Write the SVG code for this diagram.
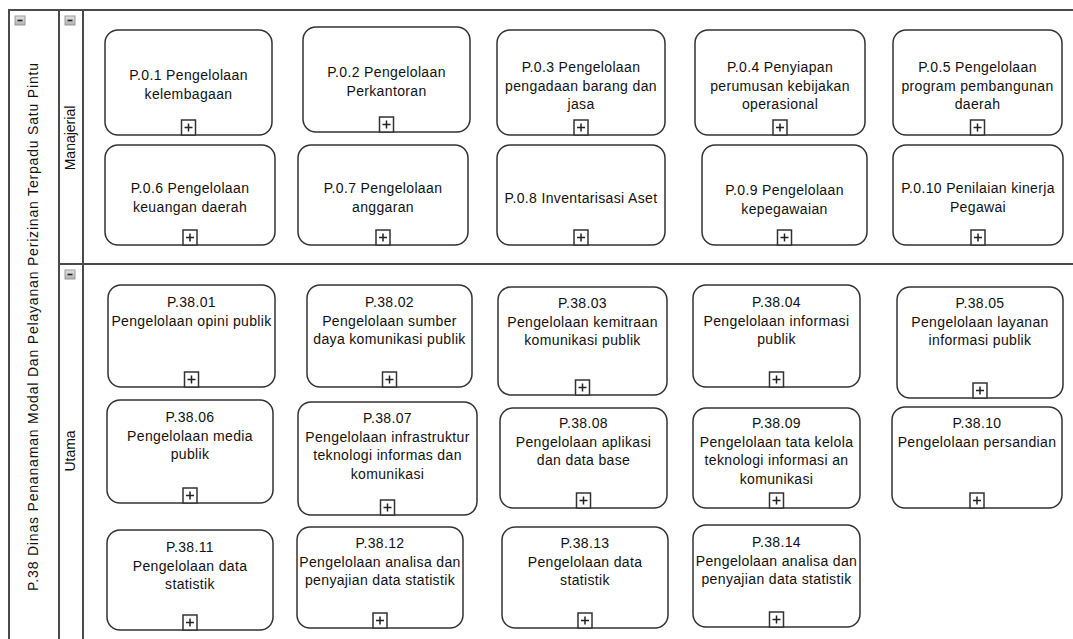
<svg xmlns="http://www.w3.org/2000/svg" width="1073" height="639" viewBox="0 0 1073 639">
<defs>
<style>
.ln{stroke:#4a4a4a;stroke-width:2;fill:none}
.box{fill:#fff;stroke:#333;stroke-width:1.5}
.t{font-family:"Liberation Sans",Arial,sans-serif;font-size:14px;letter-spacing:0.35px;fill:#111;text-anchor:middle}
.hd{font-family:"Liberation Sans",Arial,sans-serif;font-size:14px;fill:#111;text-anchor:middle}
.pm{fill:#fff;stroke:#333;stroke-width:1.5}
.pl{stroke:#222;stroke-width:1.5}
.ic{fill:url(#g);stroke:#999;stroke-width:1}
</style>
<linearGradient id="g" x1="0" y1="0" x2="0" y2="1"><stop offset="0" stop-color="#e4e4e4"/><stop offset="1" stop-color="#b0b0b0"/></linearGradient>
<g id="plus"><rect class="pm" x="-7" y="-15" width="14" height="15"/><path class="pl" d="M-4,-7.5H4M0,-11.5V-3.5"/></g>
<g id="coll"><rect class="ic" x="0" y="0" width="10" height="9"/><path d="M2.5,4.5H7.5" stroke="#222" stroke-width="1.6"/></g>
</defs>
<rect width="1073" height="639" fill="#fff"/>

<g id="pool">
<path class="ln" d="M9,639V10H1073M59,10V639M83,10V639M59,264H1073"/>
<use href="#coll" x="15" y="16"/>
<use href="#coll" x="65" y="16"/>
<use href="#coll" x="65" y="270"/>
<text class="hd" transform="translate(38,327) rotate(-90)" textLength="528" lengthAdjust="spacing">P.38 Dinas Penanaman Modal Dan Pelayanan Perizinan Terpadu Satu Pintu</text>
</g>
<g id="lane-manajerial"><text class="hd" transform="translate(75,138) rotate(-90)">Manajerial</text></g>
<g id="lane-utama"><text class="hd" transform="translate(75,451) rotate(-90)">Utama</text></g>

<g id="connectors"></g>

<g id="P0-1"><rect class="box" x="105" y="30" width="167" height="105" rx="13"/><text class="t" x="188.5" y="80">P.0.1 Pengelolaan<tspan x="188.5" dy="18.5">kelembagaan</tspan></text><use href="#plus" x="188.5" y="135"/></g>
<g id="P0-2"><rect class="box" x="303" y="27" width="167" height="105" rx="13"/><text class="t" x="386.5" y="77">P.0.2 Pengelolaan<tspan x="386.5" dy="18.5">Perkantoran</tspan></text><use href="#plus" x="386.5" y="132"/></g>
<g id="P0-3"><rect class="box" x="497" y="30" width="168" height="105" rx="13"/><text class="t" x="581" y="72">P.0.3 Pengelolaan<tspan x="581" dy="18.5">pengadaan barang dan</tspan><tspan x="581" dy="18.5">jasa</tspan></text><use href="#plus" x="581" y="135"/></g>
<g id="P0-4"><rect class="box" x="695" y="30" width="170" height="105" rx="13"/><text class="t" x="780" y="72">P.0.4 Penyiapan<tspan x="780" dy="18.5">perumusan kebijakan</tspan><tspan x="780" dy="18.5">operasional</tspan></text><use href="#plus" x="780" y="135"/></g>
<g id="P0-5"><rect class="box" x="893" y="30" width="169" height="105" rx="13"/><text class="t" x="977.5" y="72">P.0.5 Pengelolaan<tspan x="977.5" dy="18.5">program pembangunan</tspan><tspan x="977.5" dy="18.5">daerah</tspan></text><use href="#plus" x="977.5" y="135"/></g>
<g id="P0-6"><rect class="box" x="105" y="145" width="170" height="100" rx="13"/><text class="t" x="190" y="193">P.0.6 Pengelolaan<tspan x="190" dy="18.5">keuangan daerah</tspan></text><use href="#plus" x="190" y="245"/></g>
<g id="P0-7"><rect class="box" x="298" y="145" width="170" height="100" rx="13"/><text class="t" x="383" y="193">P.0.7 Pengelolaan<tspan x="383" dy="18.5">anggaran</tspan></text><use href="#plus" x="383" y="245"/></g>
<g id="P0-8"><rect class="box" x="497" y="145" width="168" height="100" rx="13"/><text class="t" x="581" y="203">P.0.8 Inventarisasi Aset</text><use href="#plus" x="581" y="245"/></g>
<g id="P0-9"><rect class="box" x="702" y="145" width="165" height="100" rx="13"/><text class="t" x="784.5" y="195">P.0.9 Pengelolaan<tspan x="784.5" dy="18.5">kepegawaian</tspan></text><use href="#plus" x="784.5" y="245"/></g>
<g id="P0-10"><rect class="box" x="893" y="145" width="170" height="100" rx="13"/><text class="t" x="978" y="193">P.0.10 Penilaian kinerja<tspan x="978" dy="18.5">Pegawai</tspan></text><use href="#plus" x="978" y="245"/></g>

<g id="P38-01"><rect class="box" x="108" y="285" width="167" height="102" rx="13"/><text class="t" x="191.5" y="307">P.38.01<tspan x="191.5" dy="18.5">Pengelolaan opini publik</tspan></text><use href="#plus" x="191.5" y="387"/></g>
<g id="P38-02"><rect class="box" x="307" y="285" width="165" height="102" rx="13"/><text class="t" x="389.5" y="307">P.38.02<tspan x="389.5" dy="18.5">Pengelolaan sumber</tspan><tspan x="389.5" dy="18.5">daya komunikasi publik</tspan></text><use href="#plus" x="389.5" y="387"/></g>
<g id="P38-03"><rect class="box" x="498" y="287" width="169" height="108" rx="13"/><text class="t" x="582.5" y="308">P.38.03<tspan x="582.5" dy="18.5">Pengelolaan kemitraan</tspan><tspan x="582.5" dy="18.5">komunikasi publik</tspan></text><use href="#plus" x="582.5" y="395"/></g>
<g id="P38-04"><rect class="box" x="693" y="285" width="167" height="102" rx="13"/><text class="t" x="776.5" y="307">P.38.04<tspan x="776.5" dy="18.5">Pengelolaan informasi</tspan><tspan x="776.5" dy="18.5">publik</tspan></text><use href="#plus" x="776.5" y="387"/></g>
<g id="P38-05"><rect class="box" x="897" y="287" width="166" height="111" rx="13"/><text class="t" x="980" y="308">P.38.05<tspan x="980" dy="18.5">Pengelolaan layanan</tspan><tspan x="980" dy="18.5">informasi publik</tspan></text><use href="#plus" x="980" y="398"/></g>
<g id="P38-06"><rect class="box" x="107" y="400" width="166" height="103" rx="13"/><text class="t" x="190" y="422">P.38.06<tspan x="190" dy="18.5">Pengelolaan media</tspan><tspan x="190" dy="18.5">publik</tspan></text><use href="#plus" x="190" y="503"/></g>
<g id="P38-07"><rect class="box" x="298" y="402" width="179" height="113" rx="13"/><text class="t" x="387.5" y="423">P.38.07<tspan x="387.5" dy="18.5">Pengelolaan infrastruktur</tspan><tspan x="387.5" dy="18.5">teknologi informas dan</tspan><tspan x="387.5" dy="18.5">komunikasi</tspan></text><use href="#plus" x="387.5" y="515"/></g>
<g id="P38-08"><rect class="box" x="500" y="408" width="167" height="100" rx="13"/><text class="t" x="583.5" y="428">P.38.08<tspan x="583.5" dy="18.5">Pengelolaan aplikasi</tspan><tspan x="583.5" dy="18.5">dan data base</tspan></text><use href="#plus" x="583.5" y="508"/></g>
<g id="P38-09"><rect class="box" x="693" y="408" width="167" height="100" rx="13"/><text class="t" x="776.5" y="428">P.38.09<tspan x="776.5" dy="18.5">Pengelolaan tata kelola</tspan><tspan x="776.5" dy="18.5">teknologi informasi an</tspan><tspan x="776.5" dy="18.5">komunikasi</tspan></text><use href="#plus" x="776.5" y="508"/></g>
<g id="P38-10"><rect class="box" x="892" y="407" width="170" height="101" rx="13"/><text class="t" x="977" y="428">P.38.10<tspan x="977" dy="18.5">Pengelolaan persandian</tspan></text><use href="#plus" x="977" y="508"/></g>
<g id="P38-11"><rect class="box" x="107" y="530" width="166" height="100" rx="13"/><text class="t" x="190" y="552">P.38.11<tspan x="190" dy="18.5">Pengelolaan data</tspan><tspan x="190" dy="18.5">statistik</tspan></text><use href="#plus" x="190" y="630"/></g>
<g id="P38-12"><rect class="box" x="297" y="527" width="166" height="101" rx="13"/><text class="t" x="380" y="548">P.38.12<tspan x="380" dy="18.5">Pengelolaan analisa dan</tspan><tspan x="380" dy="18.5">penyajian data statistik</tspan></text><use href="#plus" x="380" y="628"/></g>
<g id="P38-13"><rect class="box" x="502" y="527" width="166" height="101" rx="13"/><text class="t" x="585" y="548">P.38.13<tspan x="585" dy="18.5">Pengelolaan data</tspan><tspan x="585" dy="18.5">statistik</tspan></text><use href="#plus" x="585" y="628"/></g>
<g id="P38-14"><rect class="box" x="693" y="525" width="167" height="102" rx="13"/><text class="t" x="776.5" y="547">P.38.14<tspan x="776.5" dy="18.5">Pengelolaan analisa dan</tspan><tspan x="776.5" dy="18.5">penyajian data statistik</tspan></text><use href="#plus" x="776.5" y="627"/></g>
</svg>
